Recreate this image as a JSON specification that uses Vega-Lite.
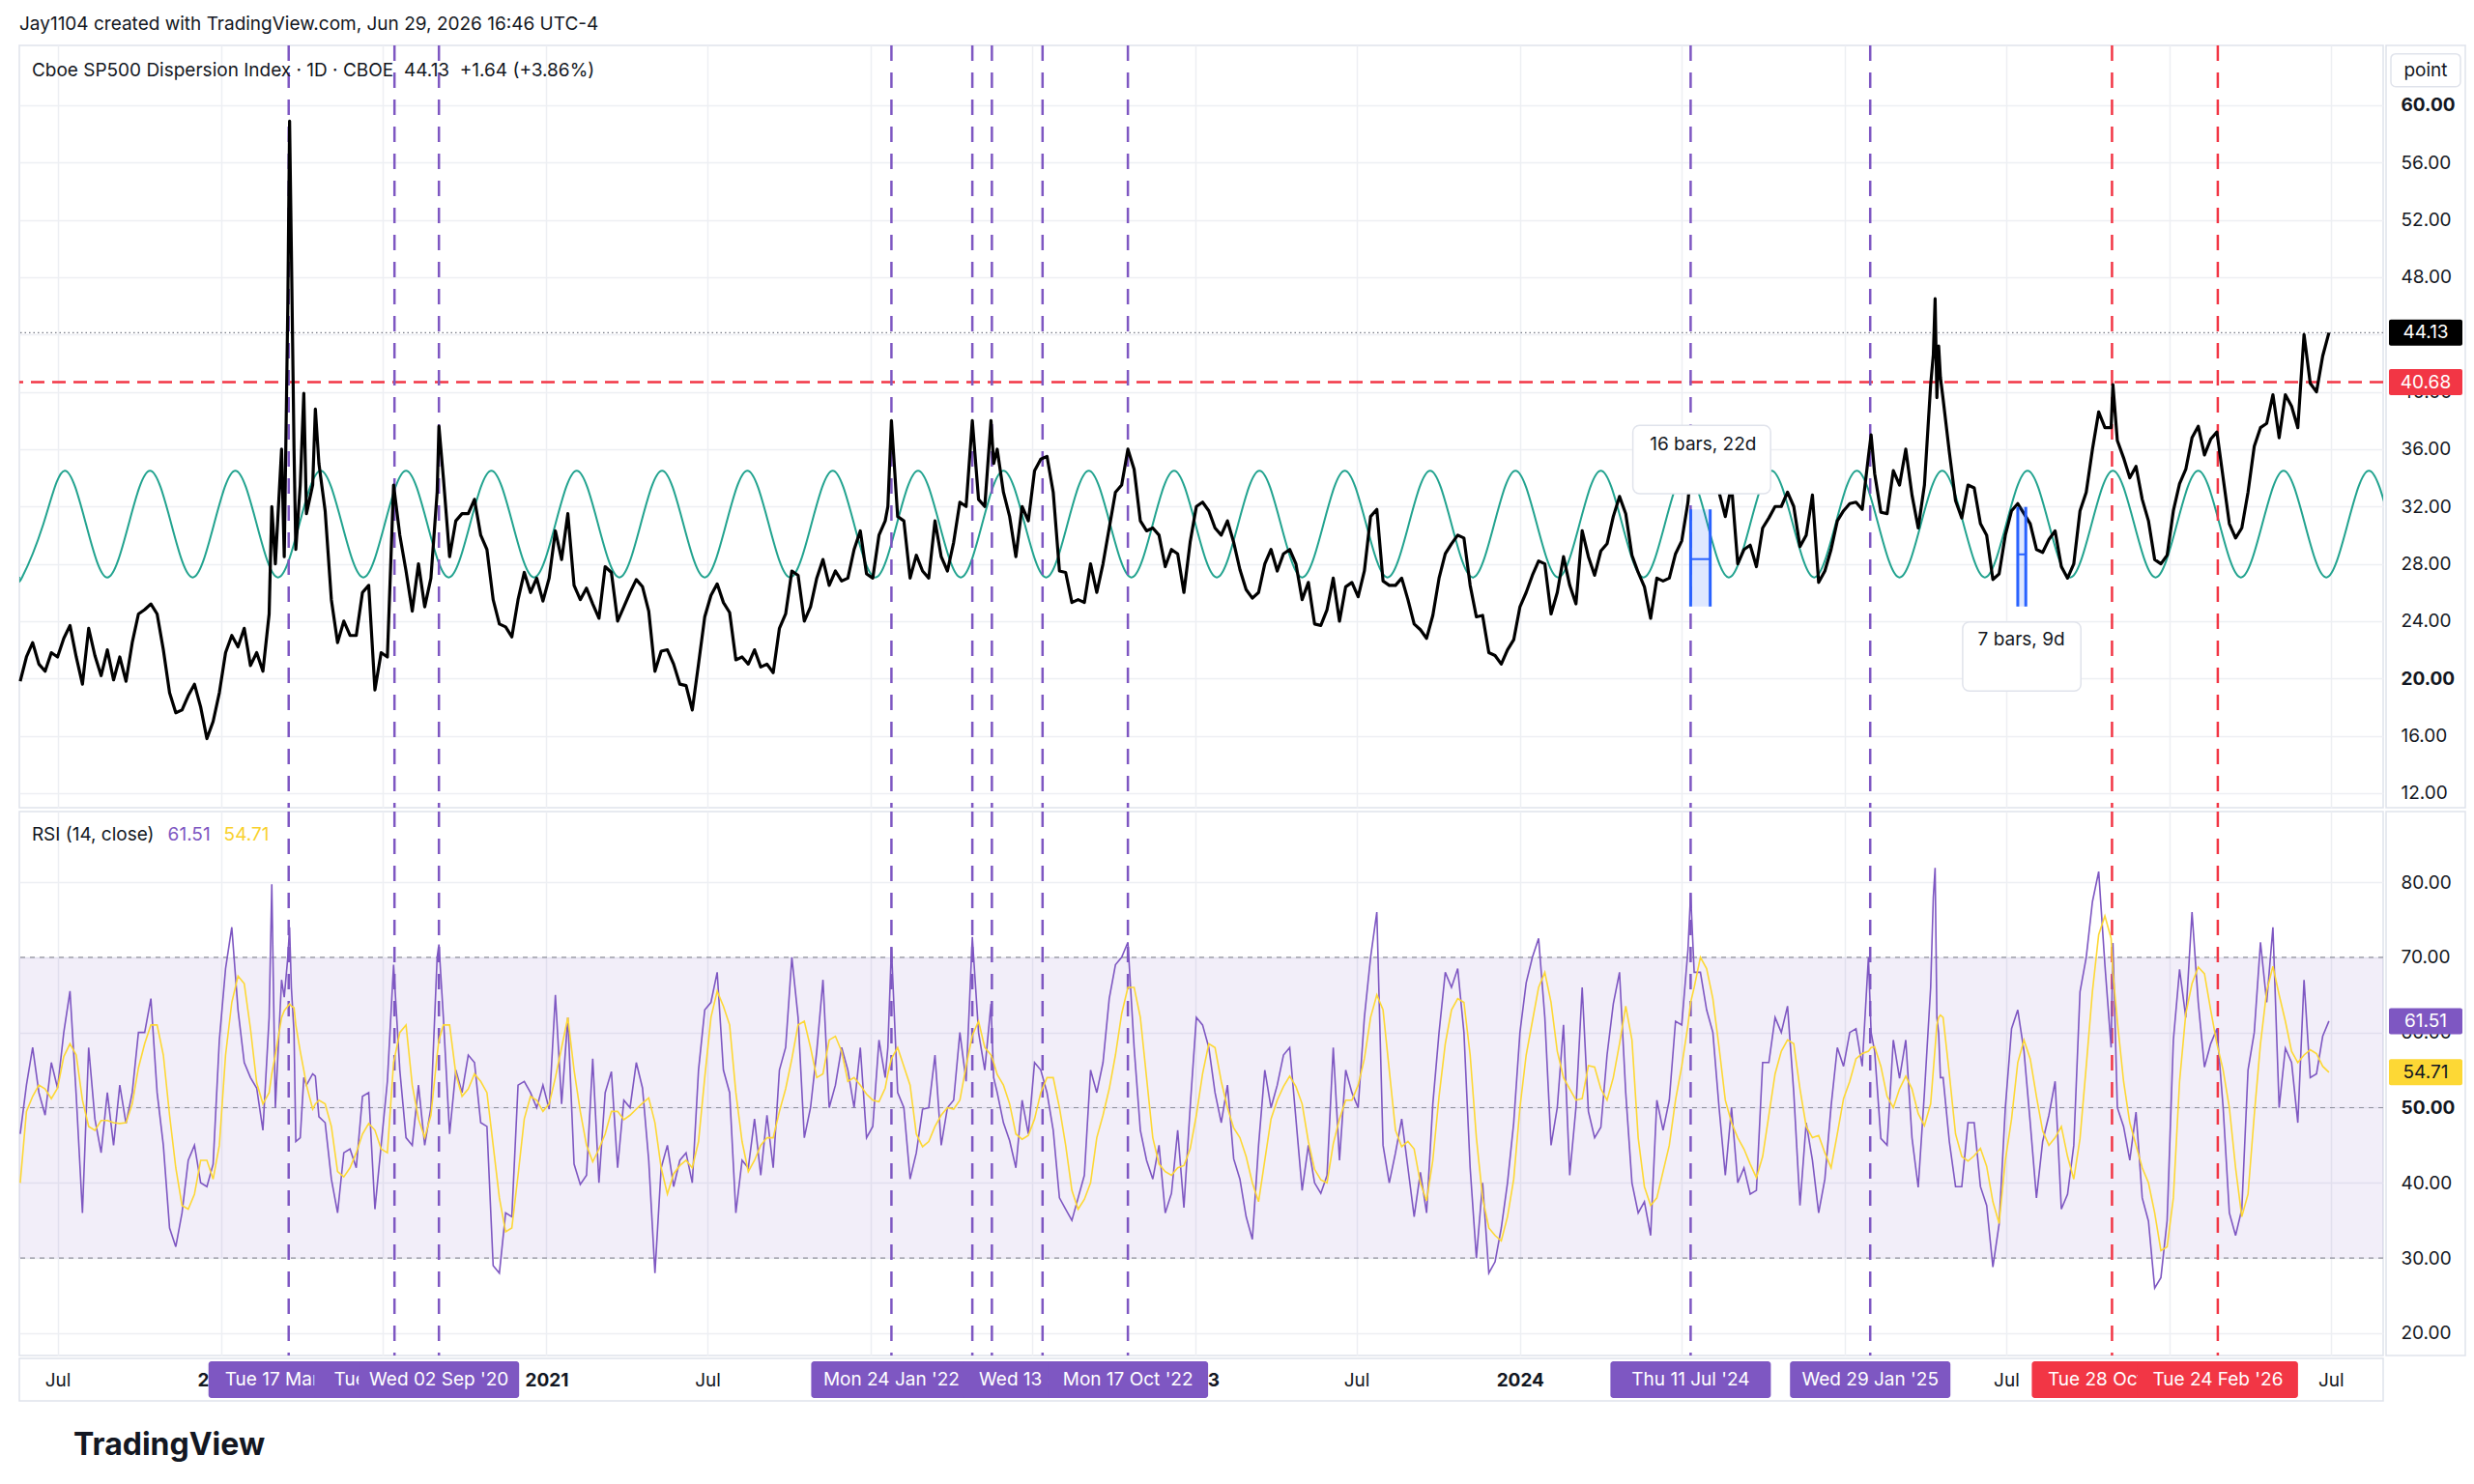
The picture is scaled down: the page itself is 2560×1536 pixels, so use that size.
{
  "$schema": "https://vega.github.io/schema/vega-lite/v6.json",
  "background": "white",
  "padding": {"left": 16, "top": 16, "right": 16, "bottom": 8},
  "spacing": 0,
  "config": {
    "font": "Inter",
    "view": {"stroke": "#E0E3EB", "strokeWidth": 1.5},
    "axis": {"labelFont": "Inter", "labelColor": "#131722", "labelFontSize": 19, "minExtent": 0, "gridColor": "#EDEFF3", "gridWidth": 1.5},
    "concat": {"spacing": 0},
    "text": {"font": "Inter"}
  },
  "title": {"text": "TradingView", "orient": "bottom", "anchor": "start", "frame": "group", "fontSize": 32, "fontWeight": "bold", "color": "#131722", "offset": 30, "dx": 56},
  "datasets": {
    "dspx": [
      {"d":"2019-05-20","p":19.8,"r":46.5,"m":40.0},{"d":"2019-05-27","p":21.5,"r":53.0,"m":49.5},{"d":"2019-06-03","p":22.5,"r":58.0,"m":51.5},{"d":"2019-06-10","p":21.0,"r":52.0,"m":53.0},{"d":"2019-06-17","p":20.5,"r":49.0,"m":52.5},{"d":"2019-06-24","p":21.8,"r":56.0,"m":51.2},
      {"d":"2019-07-01","p":21.5,"r":52.6,"m":52.6},{"d":"2019-07-08","p":22.8,"r":60.0,"m":56.8},{"d":"2019-07-15","p":23.7,"r":65.5,"m":58.5},{"d":"2019-07-22","p":21.5,"r":51.6,"m":57.0},{"d":"2019-07-29","p":19.6,"r":36.0,"m":51.0},
      {"d":"2019-08-05","p":23.5,"r":58.0,"m":47.5},{"d":"2019-08-12","p":21.6,"r":48.5,"m":47.0},{"d":"2019-08-19","p":20.2,"r":44.0,"m":48.3},{"d":"2019-08-26","p":22.0,"r":52.0,"m":48.3},
      {"d":"2019-09-02","p":19.9,"r":45.0,"m":48.0},{"d":"2019-09-09","p":21.5,"r":53.0,"m":47.9},{"d":"2019-09-16","p":19.8,"r":47.9,"m":48.0},{"d":"2019-09-23","p":22.5,"r":52.0,"m":50.5},{"d":"2019-09-30","p":24.5,"r":60.0,"m":55.3},
      {"d":"2019-10-07","p":24.8,"r":60.0,"m":58.5},{"d":"2019-10-14","p":25.2,"r":64.5,"m":61.0},{"d":"2019-10-21","p":24.5,"r":52.0,"m":61.0},{"d":"2019-10-28","p":22.0,"r":45.0,"m":57.0},
      {"d":"2019-11-04","p":19.0,"r":34.0,"m":49.0},{"d":"2019-11-11","p":17.6,"r":31.5,"m":42.0},{"d":"2019-11-18","p":17.8,"r":36.0,"m":37.0},{"d":"2019-11-25","p":18.8,"r":43.0,"m":36.5},
      {"d":"2019-12-02","p":19.6,"r":45.0,"m":38.5},{"d":"2019-12-09","p":18.0,"r":40.0,"m":43.0},{"d":"2019-12-16","p":15.8,"r":39.5,"m":43.0},{"d":"2019-12-23","p":17.0,"r":42.5,"m":40.5},{"d":"2019-12-30","p":19.0,"r":59.0,"m":45.0},
      {"d":"2020-01-06","p":21.8,"r":68.5,"m":57.0},{"d":"2020-01-13","p":23.0,"r":74.0,"m":64.0},{"d":"2020-01-20","p":22.2,"r":63.0,"m":67.5},{"d":"2020-01-27","p":23.5,"r":56.0,"m":66.5},
      {"d":"2020-02-03","p":20.9,"r":54.0,"m":60.5},{"d":"2020-02-10","p":21.8,"r":52.6,"m":53.3},{"d":"2020-02-17","p":20.5,"r":47.0,"m":50.5},{"d":"2020-02-24","p":24.5,"r":62.0,"m":52.0},{"d":"2020-02-27","p":32.0,"r":79.7,"m":54.5},
      {"d":"2020-03-02","p":28.0,"r":50.0,"m":57.0},{"d":"2020-03-09","p":36.0,"r":67.0,"m":62.0},{"d":"2020-03-12","p":28.5,"r":64.7,"m":62.9},{"d":"2020-03-16","p":46.0,"r":70.0,"m":63.5},{"d":"2020-03-18","p":58.9,"r":74.0,"m":63.8},{"d":"2020-03-20","p":50.0,"r":66.0,"m":63.5},{"d":"2020-03-23","p":36.0,"r":60.0,"m":63.3},{"d":"2020-03-25","p":29.0,"r":45.5,"m":61.0},{"d":"2020-03-30","p":33.5,"r":46.0,"m":57.5},
      {"d":"2020-04-03","p":39.9,"r":54.0,"m":55.0},{"d":"2020-04-06","p":31.5,"r":53.0,"m":53.0},{"d":"2020-04-13","p":33.5,"r":54.5,"m":49.8},{"d":"2020-04-16","p":38.8,"r":54.2,"m":50.5},{"d":"2020-04-20","p":35.0,"r":48.8,"m":51.0},{"d":"2020-04-27","p":31.7,"r":48.0,"m":50.5},
      {"d":"2020-05-04","p":25.5,"r":40.5,"m":47.5},{"d":"2020-05-11","p":22.5,"r":36.0,"m":41.5},{"d":"2020-05-18","p":24.0,"r":44.0,"m":40.8},{"d":"2020-05-25","p":23.0,"r":44.5,"m":42.0},
      {"d":"2020-06-01","p":23.0,"r":42.0,"m":44.0},{"d":"2020-06-08","p":26.0,"r":51.5,"m":46.5},{"d":"2020-06-15","p":26.5,"r":52.0,"m":47.9},{"d":"2020-06-22","p":19.2,"r":36.5,"m":47.0},{"d":"2020-06-29","p":21.8,"r":45.0,"m":44.5},
      {"d":"2020-07-06","p":21.5,"r":53.5,"m":44.0},{"d":"2020-07-13","p":33.5,"r":69.0,"m":56.0},{"d":"2020-07-20","p":30.0,"r":55.0,"m":60.0},{"d":"2020-07-27","p":27.5,"r":46.0,"m":61.0},
      {"d":"2020-08-03","p":24.7,"r":45.0,"m":53.0},{"d":"2020-08-10","p":28.0,"r":53.0,"m":48.5},{"d":"2020-08-17","p":25.0,"r":45.0,"m":46.0},{"d":"2020-08-24","p":27.0,"r":50.0,"m":49.0},{"d":"2020-08-31","p":33.0,"r":70.0,"m":57.0},
      {"d":"2020-09-02","p":37.6,"r":71.7,"m":59.0},{"d":"2020-09-07","p":34.0,"r":62.0,"m":61.0},{"d":"2020-09-14","p":28.5,"r":46.5,"m":61.0},{"d":"2020-09-21","p":31.0,"r":55.0,"m":54.5},{"d":"2020-09-28","p":31.5,"r":52.0,"m":51.5},
      {"d":"2020-10-05","p":31.5,"r":57.0,"m":52.5},{"d":"2020-10-12","p":32.5,"r":56.0,"m":54.5},{"d":"2020-10-19","p":30.0,"r":48.0,"m":53.5},{"d":"2020-10-26","p":29.0,"r":47.5,"m":52.0},
      {"d":"2020-11-02","p":25.5,"r":29.0,"m":45.0},{"d":"2020-11-09","p":23.8,"r":28.0,"m":38.0},{"d":"2020-11-16","p":23.6,"r":36.0,"m":33.5},{"d":"2020-11-23","p":22.9,"r":35.5,"m":34.0},{"d":"2020-11-30","p":25.5,"r":53.0,"m":41.0},
      {"d":"2020-12-07","p":27.4,"r":53.5,"m":48.5},{"d":"2020-12-14","p":26.0,"r":52.0,"m":51.5},{"d":"2020-12-21","p":27.0,"r":50.0,"m":51.0},{"d":"2020-12-28","p":25.4,"r":53.0,"m":49.5},
      {"d":"2021-01-04","p":27.0,"r":49.8,"m":50.5},{"d":"2021-01-11","p":30.3,"r":65.0,"m":54.0},{"d":"2021-01-18","p":28.3,"r":50.5,"m":58.0},{"d":"2021-01-25","p":31.5,"r":62.0,"m":62.0},
      {"d":"2021-02-01","p":26.5,"r":42.5,"m":55.0},{"d":"2021-02-08","p":25.5,"r":39.8,"m":49.5},{"d":"2021-02-15","p":26.3,"r":41.0,"m":45.0},{"d":"2021-02-22","p":25.2,"r":56.5,"m":42.8},
      {"d":"2021-03-01","p":24.2,"r":40.0,"m":44.5},{"d":"2021-03-08","p":27.8,"r":52.0,"m":46.5},{"d":"2021-03-15","p":27.4,"r":54.8,"m":49.5},{"d":"2021-03-22","p":24.0,"r":42.0,"m":49.5},{"d":"2021-03-29","p":25.0,"r":51.0,"m":48.4},
      {"d":"2021-04-05","p":26.0,"r":50.0,"m":49.0},{"d":"2021-04-12","p":26.9,"r":56.0,"m":49.8},{"d":"2021-04-19","p":26.4,"r":52.6,"m":50.6},{"d":"2021-04-26","p":24.7,"r":43.0,"m":51.3},
      {"d":"2021-05-03","p":20.5,"r":28.0,"m":48.0},{"d":"2021-05-10","p":21.9,"r":42.0,"m":42.0},{"d":"2021-05-17","p":22.0,"r":45.0,"m":38.5},{"d":"2021-05-24","p":21.0,"r":39.5,"m":41.2},{"d":"2021-05-31","p":19.6,"r":43.0,"m":42.3},
      {"d":"2021-06-07","p":19.5,"r":44.0,"m":43.0},{"d":"2021-06-14","p":17.8,"r":40.0,"m":42.0},{"d":"2021-06-21","p":21.0,"r":55.0,"m":45.5},{"d":"2021-06-28","p":24.3,"r":63.0,"m":54.0},
      {"d":"2021-07-05","p":25.8,"r":64.0,"m":62.0},{"d":"2021-07-12","p":26.6,"r":68.0,"m":65.5},{"d":"2021-07-19","p":25.3,"r":55.0,"m":63.5},{"d":"2021-07-26","p":24.6,"r":52.0,"m":61.0},
      {"d":"2021-08-02","p":21.3,"r":36.0,"m":52.0},{"d":"2021-08-09","p":21.5,"r":43.0,"m":45.5},{"d":"2021-08-16","p":21.0,"r":42.0,"m":41.5},{"d":"2021-08-23","p":22.0,"r":48.5,"m":43.0},{"d":"2021-08-30","p":20.8,"r":41.0,"m":45.0},
      {"d":"2021-09-06","p":21.0,"r":49.0,"m":46.0},{"d":"2021-09-13","p":20.4,"r":42.0,"m":46.0},{"d":"2021-09-20","p":23.5,"r":55.0,"m":49.5},{"d":"2021-09-27","p":24.5,"r":58.0,"m":52.5},
      {"d":"2021-10-04","p":27.5,"r":70.0,"m":56.5},{"d":"2021-10-11","p":27.2,"r":62.0,"m":61.0},{"d":"2021-10-18","p":24.0,"r":46.0,"m":61.5},{"d":"2021-10-25","p":25.0,"r":50.0,"m":58.0},
      {"d":"2021-11-01","p":27.0,"r":57.5,"m":54.0},{"d":"2021-11-08","p":28.3,"r":67.0,"m":54.5},{"d":"2021-11-15","p":26.5,"r":50.0,"m":59.0},{"d":"2021-11-22","p":27.5,"r":53.0,"m":59.5},{"d":"2021-11-29","p":26.8,"r":58.0,"m":57.5},
      {"d":"2021-12-06","p":27.0,"r":55.0,"m":53.5},{"d":"2021-12-13","p":29.0,"r":50.0,"m":54.0},{"d":"2021-12-20","p":30.3,"r":58.0,"m":53.0},{"d":"2021-12-27","p":27.3,"r":46.0,"m":51.8},
      {"d":"2022-01-03","p":27.0,"r":47.5,"m":51.0},{"d":"2022-01-10","p":30.0,"r":59.0,"m":50.8},{"d":"2022-01-17","p":31.0,"r":54.0,"m":52.6},{"d":"2022-01-20","p":32.0,"r":58.0,"m":54.5},{"d":"2022-01-24","p":38.0,"r":71.3,"m":56.5},{"d":"2022-01-31","p":31.3,"r":52.0,"m":58.0},
      {"d":"2022-02-07","p":31.0,"r":50.0,"m":55.5},{"d":"2022-02-14","p":27.0,"r":40.5,"m":53.0},{"d":"2022-02-21","p":28.6,"r":44.0,"m":46.5},{"d":"2022-02-28","p":27.5,"r":49.8,"m":44.8},
      {"d":"2022-03-07","p":27.0,"r":50.0,"m":45.5},{"d":"2022-03-14","p":31.0,"r":57.0,"m":47.5},{"d":"2022-03-21","p":28.5,"r":45.0,"m":49.0},{"d":"2022-03-28","p":27.5,"r":50.0,"m":50.0},
      {"d":"2022-04-04","p":29.5,"r":51.0,"m":49.8},{"d":"2022-04-11","p":32.3,"r":60.0,"m":51.0},{"d":"2022-04-18","p":32.0,"r":53.5,"m":55.5},{"d":"2022-04-25","p":38.0,"r":72.7,"m":59.6},
      {"d":"2022-05-02","p":32.5,"r":60.0,"m":61.5},{"d":"2022-05-09","p":32.0,"r":55.0,"m":58.0},{"d":"2022-05-16","p":38.0,"r":63.8,"m":57.0},{"d":"2022-05-19","p":35.0,"r":54.0,"m":56.0},{"d":"2022-05-23","p":36.0,"r":52.0,"m":54.4},{"d":"2022-05-30","p":33.0,"r":48.0,"m":53.0},
      {"d":"2022-06-06","p":31.3,"r":45.6,"m":50.5},{"d":"2022-06-13","p":28.5,"r":42.0,"m":46.5},{"d":"2022-06-20","p":32.0,"r":51.0,"m":45.8},{"d":"2022-06-27","p":31.0,"r":46.5,"m":46.3},
      {"d":"2022-07-04","p":34.5,"r":56.0,"m":48.5},{"d":"2022-07-11","p":35.3,"r":55.0,"m":52.0},{"d":"2022-07-18","p":35.5,"r":52.0,"m":54.0},{"d":"2022-07-25","p":33.0,"r":47.0,"m":54.0},
      {"d":"2022-08-01","p":27.5,"r":38.0,"m":50.0},{"d":"2022-08-08","p":27.4,"r":36.5,"m":45.0},{"d":"2022-08-15","p":25.3,"r":35.0,"m":39.0},{"d":"2022-08-22","p":25.5,"r":38.0,"m":36.5},{"d":"2022-08-29","p":25.3,"r":41.0,"m":37.8},
      {"d":"2022-09-05","p":28.0,"r":55.0,"m":40.0},{"d":"2022-09-12","p":26.0,"r":52.0,"m":46.0},{"d":"2022-09-19","p":28.0,"r":56.0,"m":49.0},{"d":"2022-09-26","p":30.5,"r":64.5,"m":52.5},
      {"d":"2022-10-03","p":33.0,"r":69.0,"m":57.0},{"d":"2022-10-10","p":33.5,"r":70.0,"m":62.5},{"d":"2022-10-17","p":36.0,"r":72.0,"m":66.0},{"d":"2022-10-24","p":34.6,"r":58.0,"m":66.0},{"d":"2022-10-31","p":31.0,"r":47.0,"m":62.0},
      {"d":"2022-11-07","p":30.3,"r":43.0,"m":54.0},{"d":"2022-11-14","p":30.5,"r":40.5,"m":46.0},{"d":"2022-11-21","p":30.0,"r":45.0,"m":42.5},{"d":"2022-11-28","p":27.8,"r":36.0,"m":41.5},
      {"d":"2022-12-05","p":29.0,"r":38.6,"m":41.0},{"d":"2022-12-12","p":28.7,"r":47.0,"m":42.0},{"d":"2022-12-19","p":26.0,"r":36.7,"m":42.3},{"d":"2022-12-26","p":29.5,"r":50.0,"m":44.5},
      {"d":"2023-01-02","p":32.0,"r":62.0,"m":49.0},{"d":"2023-01-09","p":32.3,"r":61.0,"m":54.5},{"d":"2023-01-16","p":31.7,"r":58.0,"m":58.5},{"d":"2023-01-23","p":30.5,"r":52.0,"m":58.0},{"d":"2023-01-30","p":30.0,"r":48.0,"m":53.5},
      {"d":"2023-02-06","p":31.0,"r":53.0,"m":50.0},{"d":"2023-02-13","p":29.5,"r":43.2,"m":47.3},{"d":"2023-02-20","p":27.6,"r":40.5,"m":46.0},{"d":"2023-02-27","p":26.2,"r":35.5,"m":43.5},
      {"d":"2023-03-06","p":25.6,"r":32.5,"m":40.0},{"d":"2023-03-13","p":26.0,"r":45.0,"m":37.5},{"d":"2023-03-20","p":28.0,"r":55.0,"m":43.0},{"d":"2023-03-27","p":29.0,"r":50.0,"m":48.5},
      {"d":"2023-04-03","p":27.5,"r":53.0,"m":51.0},{"d":"2023-04-10","p":28.7,"r":57.0,"m":52.8},{"d":"2023-04-17","p":29.0,"r":58.0,"m":54.2},{"d":"2023-04-24","p":28.0,"r":48.5,"m":52.8},
      {"d":"2023-05-01","p":25.5,"r":39.0,"m":50.5},{"d":"2023-05-08","p":26.7,"r":45.0,"m":45.5},{"d":"2023-05-15","p":23.8,"r":40.0,"m":41.8},{"d":"2023-05-22","p":23.7,"r":38.6,"m":40.4},{"d":"2023-05-29","p":24.8,"r":41.0,"m":40.0},
      {"d":"2023-06-05","p":27.0,"r":58.0,"m":45.2},{"d":"2023-06-12","p":24.0,"r":43.0,"m":48.5},{"d":"2023-06-19","p":26.4,"r":55.0,"m":51.0},{"d":"2023-06-26","p":26.7,"r":52.0,"m":51.0},
      {"d":"2023-07-03","p":25.7,"r":50.0,"m":53.0},{"d":"2023-07-10","p":27.5,"r":62.0,"m":56.5},{"d":"2023-07-17","p":31.3,"r":70.0,"m":62.0},{"d":"2023-07-24","p":31.8,"r":76.0,"m":65.0},{"d":"2023-07-31","p":26.8,"r":45.0,"m":63.0},
      {"d":"2023-08-07","p":26.5,"r":40.0,"m":55.0},{"d":"2023-08-14","p":26.5,"r":44.0,"m":47.0},{"d":"2023-08-21","p":27.0,"r":48.5,"m":44.8},{"d":"2023-08-28","p":25.5,"r":42.0,"m":45.5},
      {"d":"2023-09-04","p":23.8,"r":35.5,"m":44.5},{"d":"2023-09-11","p":23.4,"r":41.4,"m":40.0},{"d":"2023-09-18","p":22.8,"r":36.0,"m":37.6},{"d":"2023-09-25","p":24.4,"r":50.5,"m":43.0},
      {"d":"2023-10-02","p":27.0,"r":60.0,"m":51.5},{"d":"2023-10-09","p":28.7,"r":68.0,"m":58.5},{"d":"2023-10-16","p":29.4,"r":66.0,"m":63.0},{"d":"2023-10-23","p":30.0,"r":68.5,"m":64.5},{"d":"2023-10-30","p":29.8,"r":60.0,"m":64.0},
      {"d":"2023-11-06","p":26.5,"r":42.0,"m":57.0},{"d":"2023-11-13","p":24.3,"r":30.0,"m":46.0},{"d":"2023-11-20","p":24.4,"r":40.0,"m":38.0},{"d":"2023-11-27","p":21.8,"r":28.0,"m":34.0},
      {"d":"2023-12-04","p":21.6,"r":29.5,"m":33.0},{"d":"2023-12-11","p":21.0,"r":34.0,"m":32.3},{"d":"2023-12-18","p":22.0,"r":40.0,"m":35.5},{"d":"2023-12-25","p":22.7,"r":48.0,"m":40.5},
      {"d":"2024-01-01","p":25.0,"r":60.0,"m":50.0},{"d":"2024-01-08","p":26.0,"r":66.6,"m":57.0},{"d":"2024-01-15","p":27.2,"r":70.0,"m":61.5},{"d":"2024-01-22","p":28.2,"r":72.5,"m":66.0},{"d":"2024-01-29","p":28.0,"r":62.0,"m":68.0},
      {"d":"2024-02-05","p":24.5,"r":45.0,"m":64.0},{"d":"2024-02-12","p":26.0,"r":50.0,"m":57.5},{"d":"2024-02-19","p":28.5,"r":61.0,"m":54.0},{"d":"2024-02-26","p":26.5,"r":41.0,"m":52.5},
      {"d":"2024-03-04","p":25.2,"r":50.0,"m":51.0},{"d":"2024-03-11","p":30.3,"r":66.0,"m":51.2},{"d":"2024-03-18","p":28.5,"r":49.5,"m":55.6},{"d":"2024-03-25","p":27.2,"r":46.0,"m":55.4},
      {"d":"2024-04-01","p":28.9,"r":47.4,"m":52.5},{"d":"2024-04-08","p":29.4,"r":57.0,"m":51.0},{"d":"2024-04-15","p":31.3,"r":63.8,"m":54.0},{"d":"2024-04-22","p":32.7,"r":68.0,"m":58.5},{"d":"2024-04-29","p":31.5,"r":52.0,"m":63.5},
      {"d":"2024-05-06","p":28.6,"r":40.0,"m":59.0},{"d":"2024-05-13","p":27.4,"r":36.0,"m":46.0},{"d":"2024-05-20","p":26.4,"r":37.5,"m":39.5},{"d":"2024-05-27","p":24.2,"r":33.0,"m":37.0},
      {"d":"2024-06-03","p":27.0,"r":51.0,"m":38.0},{"d":"2024-06-10","p":26.8,"r":47.0,"m":41.5},{"d":"2024-06-17","p":27.0,"r":51.0,"m":45.0},{"d":"2024-06-24","p":28.7,"r":61.5,"m":51.0},
      {"d":"2024-07-01","p":29.6,"r":61.0,"m":55.5},{"d":"2024-07-08","p":32.3,"r":71.0,"m":61.0},{"d":"2024-07-11","p":34.5,"r":78.5,"m":64.0},{"d":"2024-07-15","p":34.4,"r":68.0,"m":66.0},{"d":"2024-07-22","p":34.4,"r":68.0,"m":70.0},{"d":"2024-07-29","p":34.5,"r":63.0,"m":68.5},
      {"d":"2024-08-05","p":35.0,"r":60.0,"m":64.5},{"d":"2024-08-12","p":33.0,"r":50.0,"m":58.0},{"d":"2024-08-19","p":31.3,"r":41.0,"m":51.0},{"d":"2024-08-26","p":33.5,"r":50.0,"m":48.0},
      {"d":"2024-09-02","p":28.0,"r":40.0,"m":46.0},{"d":"2024-09-09","p":29.0,"r":42.0,"m":44.5},{"d":"2024-09-16","p":29.3,"r":38.5,"m":42.5},{"d":"2024-09-23","p":27.8,"r":39.0,"m":40.7},{"d":"2024-09-30","p":30.5,"r":56.0,"m":43.5},
      {"d":"2024-10-07","p":31.2,"r":56.0,"m":49.0},{"d":"2024-10-14","p":32.0,"r":62.0,"m":54.5},{"d":"2024-10-21","p":32.0,"r":60.0,"m":57.5},{"d":"2024-10-28","p":33.0,"r":63.5,"m":59.0},
      {"d":"2024-11-04","p":32.0,"r":52.0,"m":58.5},{"d":"2024-11-11","p":29.2,"r":37.0,"m":52.5},{"d":"2024-11-18","p":30.0,"r":48.0,"m":47.5},{"d":"2024-11-25","p":32.8,"r":43.0,"m":46.0},
      {"d":"2024-12-02","p":26.7,"r":36.0,"m":46.3},{"d":"2024-12-09","p":27.5,"r":40.5,"m":44.0},{"d":"2024-12-16","p":29.0,"r":50.2,"m":42.0},{"d":"2024-12-23","p":31.0,"r":58.0,"m":46.5},{"d":"2024-12-30","p":31.7,"r":55.5,"m":51.2},
      {"d":"2025-01-06","p":32.2,"r":60.0,"m":53.5},{"d":"2025-01-13","p":32.3,"r":60.5,"m":56.5},{"d":"2025-01-20","p":31.8,"r":55.5,"m":57.2},{"d":"2025-01-27","p":35.5,"r":70.0,"m":57.5},{"d":"2025-01-30","p":37.0,"r":60.0,"m":58.0},
      {"d":"2025-02-03","p":34.3,"r":57.5,"m":58.1},{"d":"2025-02-10","p":31.6,"r":45.9,"m":55.5},{"d":"2025-02-17","p":31.5,"r":45.0,"m":51.5},{"d":"2025-02-24","p":34.5,"r":59.0,"m":50.0},
      {"d":"2025-03-03","p":33.5,"r":53.9,"m":52.5},{"d":"2025-03-10","p":36.0,"r":59.0,"m":54.2},{"d":"2025-03-17","p":32.8,"r":46.0,"m":52.5},{"d":"2025-03-24","p":30.5,"r":39.4,"m":49.2},{"d":"2025-03-31","p":33.5,"r":52.0,"m":47.6},
      {"d":"2025-04-07","p":40.5,"r":66.0,"m":50.5},{"d":"2025-04-10","p":42.6,"r":78.0,"m":55.0},{"d":"2025-04-12","p":46.5,"r":81.9,"m":58.0},{"d":"2025-04-14","p":39.6,"r":62.0,"m":61.0},{"d":"2025-04-16","p":43.2,"r":59.9,"m":62.0},{"d":"2025-04-18","p":41.0,"r":54.0,"m":62.3},{"d":"2025-04-21","p":39.5,"r":54.0,"m":62.0},{"d":"2025-04-28","p":35.8,"r":45.5,"m":54.5},
      {"d":"2025-05-05","p":32.4,"r":39.5,"m":46.5},{"d":"2025-05-12","p":31.2,"r":39.5,"m":43.5},{"d":"2025-05-19","p":33.5,"r":48.0,"m":42.9},{"d":"2025-05-26","p":33.3,"r":48.0,"m":43.6},
      {"d":"2025-06-02","p":30.8,"r":39.5,"m":44.6},{"d":"2025-06-09","p":30.0,"r":37.0,"m":42.2},{"d":"2025-06-16","p":26.9,"r":28.8,"m":37.5},{"d":"2025-06-23","p":27.3,"r":34.5,"m":34.6},{"d":"2025-06-30","p":30.0,"r":50.0,"m":43.0},
      {"d":"2025-07-07","p":31.7,"r":60.5,"m":48.5},{"d":"2025-07-14","p":32.2,"r":63.0,"m":56.0},{"d":"2025-07-21","p":31.5,"r":57.5,"m":59.0},{"d":"2025-07-28","p":30.8,"r":48.0,"m":56.5},
      {"d":"2025-08-04","p":29.0,"r":38.0,"m":51.5},{"d":"2025-08-11","p":28.8,"r":45.5,"m":46.9},{"d":"2025-08-18","p":29.7,"r":49.0,"m":45.0},{"d":"2025-08-25","p":30.3,"r":53.5,"m":46.0},
      {"d":"2025-09-01","p":27.8,"r":36.5,"m":47.5},{"d":"2025-09-08","p":27.0,"r":38.5,"m":43.5},{"d":"2025-09-15","p":28.0,"r":45.0,"m":40.5},{"d":"2025-09-22","p":31.7,"r":65.4,"m":45.9},{"d":"2025-09-29","p":33.0,"r":70.0,"m":55.5},
      {"d":"2025-10-06","p":36.0,"r":77.4,"m":65.5},{"d":"2025-10-13","p":38.6,"r":81.4,"m":73.0},{"d":"2025-10-20","p":37.5,"r":69.0,"m":75.5},{"d":"2025-10-27","p":37.5,"r":58.0,"m":72.5},{"d":"2025-10-29","p":40.5,"r":71.9,"m":68.0},
      {"d":"2025-11-03","p":36.6,"r":50.0,"m":61.5},{"d":"2025-11-10","p":35.4,"r":47.5,"m":53.5},{"d":"2025-11-17","p":34.0,"r":43.0,"m":48.0},{"d":"2025-11-24","p":34.8,"r":49.4,"m":45.0},
      {"d":"2025-12-01","p":32.5,"r":38.0,"m":42.0},{"d":"2025-12-08","p":31.0,"r":34.9,"m":40.0},{"d":"2025-12-15","p":28.3,"r":26.0,"m":36.0},{"d":"2025-12-22","p":28.0,"r":27.4,"m":31.0},{"d":"2025-12-29","p":28.6,"r":35.0,"m":31.5},
      {"d":"2026-01-05","p":31.7,"r":59.0,"m":38.0},{"d":"2026-01-12","p":33.6,"r":68.4,"m":53.5},{"d":"2026-01-19","p":34.6,"r":62.0,"m":62.5},{"d":"2026-01-26","p":36.8,"r":76.0,"m":66.5},
      {"d":"2026-02-02","p":37.6,"r":64.0,"m":68.7},{"d":"2026-02-09","p":35.6,"r":55.4,"m":67.8},{"d":"2026-02-16","p":36.7,"r":58.5,"m":63.0},{"d":"2026-02-23","p":37.2,"r":60.5,"m":58.5},
      {"d":"2026-03-02","p":34.0,"r":50.0,"m":55.0},{"d":"2026-03-09","p":30.8,"r":36.0,"m":50.0},{"d":"2026-03-16","p":29.8,"r":33.0,"m":42.0},{"d":"2026-03-23","p":30.5,"r":36.5,"m":35.5},{"d":"2026-03-30","p":33.0,"r":55.0,"m":38.5},
      {"d":"2026-04-06","p":36.2,"r":60.0,"m":49.0},{"d":"2026-04-13","p":37.5,"r":72.0,"m":58.5},{"d":"2026-04-20","p":37.8,"r":64.0,"m":65.5},{"d":"2026-04-27","p":39.8,"r":74.0,"m":68.8},
      {"d":"2026-05-04","p":36.8,"r":50.0,"m":65.0},{"d":"2026-05-11","p":39.8,"r":57.9,"m":61.5},{"d":"2026-05-18","p":39.0,"r":56.0,"m":57.5},{"d":"2026-05-25","p":37.5,"r":48.0,"m":56.0},
      {"d":"2026-06-01","p":44.0,"r":67.0,"m":57.0},{"d":"2026-06-08","p":40.6,"r":54.0,"m":57.7},{"d":"2026-06-15","p":40.0,"r":54.5,"m":57.2},{"d":"2026-06-22","p":42.5,"r":59.5,"m":55.5},{"d":"2026-06-29","p":44.13,"r":61.51,"m":54.71}
    ],
    "sine": [
      {"d":"2019-05-19","v":27.1},{"d":"2019-05-22","v":27.05},{"d":"2019-06-15","v":30.77},{"d":"2019-07-09","v":34.5},{"d":"2019-08-02","v":30.77},
      {"d":"2019-08-26","v":27.05},{"d":"2019-09-19","v":30.77},{"d":"2019-10-13","v":34.5},{"d":"2019-11-06","v":30.77},
      {"d":"2019-11-30","v":27.05},{"d":"2019-12-24","v":30.77},{"d":"2020-01-17","v":34.5},{"d":"2020-02-10","v":30.77},
      {"d":"2020-03-05","v":27.05},{"d":"2020-03-29","v":30.77},{"d":"2020-04-22","v":34.5},{"d":"2020-05-16","v":30.77},
      {"d":"2020-06-09","v":27.05},{"d":"2020-07-03","v":30.77},{"d":"2020-07-27","v":34.5},{"d":"2020-08-20","v":30.77},
      {"d":"2020-09-13","v":27.05},{"d":"2020-10-07","v":30.77},{"d":"2020-10-31","v":34.5},{"d":"2020-11-24","v":30.77},
      {"d":"2020-12-18","v":27.05},{"d":"2021-01-11","v":30.77},{"d":"2021-02-04","v":34.5},{"d":"2021-02-28","v":30.77},
      {"d":"2021-03-24","v":27.05},{"d":"2021-04-17","v":30.77},{"d":"2021-05-11","v":34.5},{"d":"2021-06-04","v":30.77},
      {"d":"2021-06-28","v":27.05},{"d":"2021-07-22","v":30.77},{"d":"2021-08-15","v":34.5},{"d":"2021-09-08","v":30.77},
      {"d":"2021-10-02","v":27.05},{"d":"2021-10-26","v":30.77},{"d":"2021-11-19","v":34.5},{"d":"2021-12-13","v":30.77},
      {"d":"2022-01-06","v":27.05},{"d":"2022-01-30","v":30.77},{"d":"2022-02-23","v":34.5},{"d":"2022-03-19","v":30.77},
      {"d":"2022-04-12","v":27.05},{"d":"2022-05-06","v":30.77},{"d":"2022-05-30","v":34.5},{"d":"2022-06-23","v":30.77},
      {"d":"2022-07-17","v":27.05},{"d":"2022-08-10","v":30.77},{"d":"2022-09-03","v":34.5},{"d":"2022-09-27","v":30.77},
      {"d":"2022-10-21","v":27.05},{"d":"2022-11-14","v":30.77},{"d":"2022-12-08","v":34.5},{"d":"2023-01-01","v":30.77},
      {"d":"2023-01-25","v":27.05},{"d":"2023-02-18","v":30.77},{"d":"2023-03-14","v":34.5},{"d":"2023-04-07","v":30.77},
      {"d":"2023-05-01","v":27.05},{"d":"2023-05-25","v":30.77},{"d":"2023-06-18","v":34.5},{"d":"2023-07-12","v":30.77},
      {"d":"2023-08-05","v":27.05},{"d":"2023-08-29","v":30.77},{"d":"2023-09-22","v":34.5},{"d":"2023-10-16","v":30.77},
      {"d":"2023-11-09","v":27.05},{"d":"2023-12-03","v":30.77},{"d":"2023-12-27","v":34.5},{"d":"2024-01-20","v":30.77},
      {"d":"2024-02-13","v":27.05},{"d":"2024-03-08","v":30.77},{"d":"2024-04-01","v":34.5},{"d":"2024-04-25","v":30.77},
      {"d":"2024-05-19","v":27.05},{"d":"2024-06-12","v":30.77},{"d":"2024-07-06","v":34.5},{"d":"2024-07-30","v":30.77},
      {"d":"2024-08-23","v":27.05},{"d":"2024-09-16","v":30.77},{"d":"2024-10-10","v":34.5},{"d":"2024-11-03","v":30.77},
      {"d":"2024-11-27","v":27.05},{"d":"2024-12-21","v":30.77},{"d":"2025-01-14","v":34.5},{"d":"2025-02-07","v":30.77},
      {"d":"2025-03-03","v":27.05},{"d":"2025-03-27","v":30.77},{"d":"2025-04-20","v":34.5},{"d":"2025-05-14","v":30.77},
      {"d":"2025-06-07","v":27.05},{"d":"2025-07-01","v":30.77},{"d":"2025-07-25","v":34.5},{"d":"2025-08-18","v":30.77},
      {"d":"2025-09-11","v":27.05},{"d":"2025-10-05","v":30.77},{"d":"2025-10-29","v":34.5},{"d":"2025-11-22","v":30.77},
      {"d":"2025-12-16","v":27.05},{"d":"2026-01-09","v":30.77},{"d":"2026-02-02","v":34.5},{"d":"2026-02-26","v":30.77},
      {"d":"2026-03-22","v":27.05},{"d":"2026-04-15","v":30.77},{"d":"2026-05-09","v":34.5},{"d":"2026-06-02","v":30.77},
      {"d":"2026-06-26","v":27.05},{"d":"2026-07-20","v":30.77},{"d":"2026-08-13","v":34.5},{"d":"2026-09-06","v":30.77}
    ],
    "events": [
      {"d":"2020-03-17","kind":"past","label":"Tue 17 Mar '20"},
      {"d":"2020-07-14","kind":"past","label":"Tue 14 Jul '20"},
      {"d":"2020-09-02","kind":"past","label":"Wed 02 Sep '20"},
      {"d":"2022-01-24","kind":"past","label":"Mon 24 Jan '22"},
      {"d":"2022-04-25","kind":"past","label":"Mon 25 Apr '22"},
      {"d":"2022-05-17","kind":"past","label":"Tue 17 May '22"},
      {"d":"2022-07-13","kind":"past","label":"Wed 13 Jul '22"},
      {"d":"2022-10-17","kind":"past","label":"Mon 17 Oct '22"},
      {"d":"2024-07-11","kind":"past","label":"Thu 11 Jul '24"},
      {"d":"2025-01-29","kind":"past","label":"Wed 29 Jan '25"},
      {"d":"2025-10-28","kind":"recent","label":"Tue 28 Oct '25"},
      {"d":"2026-02-24","kind":"recent","label":"Tue 24 Feb '26"}
    ],
    "measures": [
      {"d0":"2024-07-11","d1":"2024-08-02","lo":25.02,"hi":31.8,"mid":28.33,"b0":"2024-05-07","b1":"2024-10-09","blo":32.89,"bhi":37.67,"tc":"2024-07-25","ty":36.34,"label":"16 bars, 22d"},
      {"d0":"2025-07-14","d1":"2025-07-23","lo":25.02,"hi":31.97,"mid":28.66,"b0":"2025-05-13","b1":"2025-09-23","blo":19.12,"bhi":23.95,"tc":"2025-07-18","ty":22.7,"label":"7 bars, 9d"}
    ]
  },
  "vconcat": [
    {
      "title": {"text": "Jay1104 created with TradingView.com, Jun 29, 2026 16:46 UTC-4", "anchor": "start", "frame": "group", "fontSize": 19, "fontWeight": "normal", "color": "#131722", "offset": 10},
      "spacing": 0,
      "hconcat": [
        {
          "width": 2446,
          "height": 789,
          "resolve": {"axis": {"x": "independent", "y": "independent"}},
          "layer": [
            {
              "data": {"name": "sine"},
              "mark": {"type": "line", "interpolate": "natural", "color": "#22A38F", "strokeWidth": 2, "clip": true},
              "encoding": {
                "x": {"field": "d", "type": "temporal", "scale": {"domain": [{"year": 2019, "month": "may", "date": 19}, {"year": 2026, "month": "aug", "date": 29}], "nice": false},
                  "axis": {"values": [{"year":2019,"month":"jul","date":1},{"year":2020,"month":"jan","date":1},{"year":2020,"month":"jul","date":1},{"year":2021,"month":"jan","date":1},{"year":2021,"month":"jul","date":1},{"year":2022,"month":"jan","date":1},{"year":2022,"month":"jul","date":1},{"year":2023,"month":"jan","date":1},{"year":2023,"month":"jul","date":1},{"year":2024,"month":"jan","date":1},{"year":2024,"month":"jul","date":1},{"year":2025,"month":"jan","date":1},{"year":2025,"month":"jul","date":1},{"year":2026,"month":"jan","date":1},{"year":2026,"month":"jul","date":1}], "grid": true, "labels": false, "ticks": false, "domain": false, "title": null}},
                "y": {"field": "v", "type": "quantitative", "scale": {"domain": [10.98, 64.18], "nice": false, "zero": false},
                  "axis": {"values": [12, 16, 20, 24, 28, 32, 36, 40, 44, 48, 52, 56, 60], "grid": true, "labels": false, "ticks": false, "domain": false, "title": null}}
              }
            },
            {
              "data": {"values": [{"v": 40.68}]},
              "mark": {"type": "rule", "color": "#F23645", "strokeWidth": 2.5, "strokeDash": [14, 8]},
              "encoding": {"y": {"field": "v", "type": "quantitative", "scale": {"domain": [10.98, 64.18], "nice": false, "zero": false}, "axis": null}}
            },
            {
              "data": {"values": [{"v": 44.13}]},
              "mark": {"type": "rule", "color": "#787B86", "strokeWidth": 1.2, "strokeDash": [1.5, 3]},
              "encoding": {"y": {"field": "v", "type": "quantitative", "scale": {"domain": [10.98, 64.18], "nice": false, "zero": false}, "axis": null}}
            },
            {
              "data": {"name": "events"},
              "mark": {"type": "rule", "strokeWidth": 2.5, "strokeDash": [16, 12]},
              "encoding": {
                "x": {"field": "d", "type": "temporal", "scale": {"domain": [{"year": 2019, "month": "may", "date": 19}, {"year": 2026, "month": "aug", "date": 29}], "nice": false}, "axis": null},
                "color": {"condition": {"test": "datum.kind == 'recent'", "value": "#F23645"}, "value": "#7E57C2"}
              }
            },
            {
              "data": {"name": "dspx"},
              "mark": {"type": "line", "color": "#000000", "strokeWidth": 3.2, "strokeJoin": "round", "invalid": "filter"},
              "encoding": {
                "x": {"field": "d", "type": "temporal", "scale": {"domain": [{"year": 2019, "month": "may", "date": 19}, {"year": 2026, "month": "aug", "date": 29}], "nice": false}, "axis": null},
                "y": {"field": "p", "type": "quantitative", "scale": {"domain": [10.98, 64.18], "nice": false, "zero": false}, "axis": null}
              }
            },
            {
              "data": {"name": "measures"},
              "mark": {"type": "rect", "color": "#2962FF", "opacity": 0.15},
              "encoding": {
                "x": {"field": "d0", "type": "temporal", "scale": {"domain": [{"year": 2019, "month": "may", "date": 19}, {"year": 2026, "month": "aug", "date": 29}], "nice": false}, "axis": null},
                "x2": {"field": "d1"},
                "y": {"field": "lo", "type": "quantitative", "scale": {"domain": [10.98, 64.18], "nice": false, "zero": false}, "axis": null},
                "y2": {"field": "hi"}
              }
            },
            {
              "data": {"name": "measures"},
              "mark": {"type": "rule", "color": "#2962FF", "strokeWidth": 3},
              "encoding": {
                "x": {"field": "d0", "type": "temporal", "scale": {"domain": [{"year": 2019, "month": "may", "date": 19}, {"year": 2026, "month": "aug", "date": 29}], "nice": false}, "axis": null},
                "y": {"field": "lo", "type": "quantitative", "scale": {"domain": [10.98, 64.18], "nice": false, "zero": false}, "axis": null},
                "y2": {"field": "hi"}
              }
            },
            {
              "data": {"name": "measures"},
              "mark": {"type": "rule", "color": "#2962FF", "strokeWidth": 3},
              "encoding": {
                "x": {"field": "d1", "type": "temporal", "scale": {"domain": [{"year": 2019, "month": "may", "date": 19}, {"year": 2026, "month": "aug", "date": 29}], "nice": false}, "axis": null},
                "y": {"field": "lo", "type": "quantitative", "scale": {"domain": [10.98, 64.18], "nice": false, "zero": false}, "axis": null},
                "y2": {"field": "hi"}
              }
            },
            {
              "data": {"name": "measures"},
              "mark": {"type": "rule", "color": "#2962FF", "strokeWidth": 2},
              "encoding": {
                "x": {"field": "d0", "type": "temporal", "scale": {"domain": [{"year": 2019, "month": "may", "date": 19}, {"year": 2026, "month": "aug", "date": 29}], "nice": false}, "axis": null},
                "x2": {"field": "d1"},
                "y": {"field": "mid", "type": "quantitative", "scale": {"domain": [10.98, 64.18], "nice": false, "zero": false}, "axis": null}
              }
            },
            {
              "data": {"name": "measures"},
              "mark": {"type": "rect", "fill": "#FFFFFF", "stroke": "#E0E3EB", "strokeWidth": 1.5, "cornerRadius": 7},
              "encoding": {
                "x": {"field": "b0", "type": "temporal", "scale": {"domain": [{"year": 2019, "month": "may", "date": 19}, {"year": 2026, "month": "aug", "date": 29}], "nice": false}, "axis": null},
                "x2": {"field": "b1"},
                "y": {"field": "blo", "type": "quantitative", "scale": {"domain": [10.98, 64.18], "nice": false, "zero": false}, "axis": null},
                "y2": {"field": "bhi"}
              }
            },
            {
              "data": {"name": "measures"},
              "mark": {"type": "text", "fontSize": 19, "color": "#131722", "baseline": "middle"},
              "encoding": {
                "x": {"field": "tc", "type": "temporal", "scale": {"domain": [{"year": 2019, "month": "may", "date": 19}, {"year": 2026, "month": "aug", "date": 29}], "nice": false}, "axis": null},
                "y": {"field": "ty", "type": "quantitative", "scale": {"domain": [10.98, 64.18], "nice": false, "zero": false}, "axis": null},
                "text": {"field": "label"}
              }
            },
            {
              "data": {"values": [{"d": "2019-06-02", "v": 62.43, "label": "Cboe SP500 Dispersion Index · 1D · CBOE\u00a0 44.13\u00a0 +1.64 (+3.86%)"}]},
              "mark": {"type": "text", "align": "left", "baseline": "middle", "fontSize": 19, "color": "#131722"},
              "encoding": {
                "x": {"field": "d", "type": "temporal", "scale": {"domain": [{"year": 2019, "month": "may", "date": 19}, {"year": 2026, "month": "aug", "date": 29}], "nice": false}, "axis": null},
                "y": {"field": "v", "type": "quantitative", "scale": {"domain": [10.98, 64.18], "nice": false, "zero": false}, "axis": null},
                "text": {"field": "label"}
              }
            }
          ]
        },
        {
          "width": 82,
          "height": 789,
          "resolve": {"axis": {"y": "independent"}},
          "layer": [
            {
              "data": {"values": [{"v": 44.13, "label": "44.13", "kind": "last"}, {"v": 40.68, "label": "40.68", "kind": "alert"}]},
              "mark": {"type": "tick", "orient": "horizontal", "size": 76, "thickness": 27, "opacity": 1, "cornerRadius": 2},
              "encoding": {
                "y": {"field": "v", "type": "quantitative", "scale": {"domain": [10.98, 64.18], "nice": false, "zero": false},
                  "axis": {"orient": "right", "offset": -67, "values": [12, 16, 20, 24, 28, 32, 36, 40, 44, 48, 52, 56, 60], "format": ".2f", "labelPadding": 0, "ticks": false, "domain": false, "grid": false, "title": null, "labelBaseline": "middle", "labelOverlap": false,
                    "labelFontWeight": {"condition": {"test": "datum.value == 60 || datum.value == 20", "value": "bold"}, "value": "normal"}}},
                "color": {"condition": {"test": "datum.kind == 'alert'", "value": "#F23645"}, "value": "#000000"}
              }
            },
            {
              "data": {"values": [{"v": 44.13, "label": "44.13"}, {"v": 40.68, "label": "40.68"}]},
              "mark": {"type": "text", "fontSize": 19, "color": "#FFFFFF", "baseline": "middle"},
              "encoding": {
                "y": {"field": "v", "type": "quantitative", "scale": {"domain": [10.98, 64.18], "nice": false, "zero": false}, "axis": null},
                "text": {"field": "label"}
              }
            },
            {
              "data": {"values": [{"v": 62.45, "label": "point"}]},
              "mark": {"type": "tick", "orient": "horizontal", "size": 72, "thickness": 34, "opacity": 1, "color": "#FFFFFF", "stroke": "#E0E3EB", "strokeWidth": 1.5, "cornerRadius": 5},
              "encoding": {
                "y": {"field": "v", "type": "quantitative", "scale": {"domain": [10.98, 64.18], "nice": false, "zero": false}, "axis": null}
              }
            },
            {
              "data": {"values": [{"v": 62.45, "label": "point"}]},
              "mark": {"type": "text", "fontSize": 19, "color": "#131722", "baseline": "middle"},
              "encoding": {
                "y": {"field": "v", "type": "quantitative", "scale": {"domain": [10.98, 64.18], "nice": false, "zero": false}, "axis": null},
                "text": {"field": "label"}
              }
            }
          ]
        }
      ]
    },
    {
      "spacing": 0,
      "hconcat": [
        {
          "width": 2446,
          "height": 563,
          "resolve": {"axis": {"x": "independent", "y": "independent"}},
          "layer": [
            {
              "data": {"values": [{"lo": 30, "hi": 70}]},
              "mark": {"type": "rect", "color": "#7E57C2", "opacity": 0.1},
              "encoding": {
                "y": {"field": "lo", "type": "quantitative", "scale": {"domain": [17.04, 89.38], "nice": false, "zero": false},
                  "axis": {"values": [20, 30, 40, 50, 60, 70, 80], "grid": true, "labels": false, "ticks": false, "domain": false, "title": null}},
                "y2": {"field": "hi"}
              }
            },
            {
              "data": {"values": [{"v": 70}, {"v": 50}, {"v": 30}]},
              "mark": {"type": "rule", "color": "#787B86", "strokeWidth": 1.2, "strokeDash": [5, 5], "opacity": 0.8},
              "encoding": {"y": {"field": "v", "type": "quantitative", "scale": {"domain": [17.04, 89.38], "nice": false, "zero": false}, "axis": null}}
            },
            {
              "data": {"name": "events"},
              "mark": {"type": "rule", "strokeWidth": 2.5, "strokeDash": [16, 12]},
              "encoding": {
                "x": {"field": "d", "type": "temporal", "scale": {"domain": [{"year": 2019, "month": "may", "date": 19}, {"year": 2026, "month": "aug", "date": 29}], "nice": false},
                  "axis": {"values": [{"year":2019,"month":"jul","date":1},{"year":2020,"month":"jan","date":1},{"year":2020,"month":"jul","date":1},{"year":2021,"month":"jan","date":1},{"year":2021,"month":"jul","date":1},{"year":2022,"month":"jan","date":1},{"year":2022,"month":"jul","date":1},{"year":2023,"month":"jan","date":1},{"year":2023,"month":"jul","date":1},{"year":2024,"month":"jan","date":1},{"year":2024,"month":"jul","date":1},{"year":2025,"month":"jan","date":1},{"year":2025,"month":"jul","date":1},{"year":2026,"month":"jan","date":1},{"year":2026,"month":"jul","date":1}], "grid": true, "labels": false, "ticks": false, "domain": false, "title": null}},
                "color": {"condition": {"test": "datum.kind == 'recent'", "value": "#F23645"}, "value": "#7E57C2"}
              }
            },
            {
              "data": {"name": "dspx"},
              "mark": {"type": "line", "color": "#7E57C2", "strokeWidth": 1.6, "invalid": "filter"},
              "encoding": {
                "x": {"field": "d", "type": "temporal", "scale": {"domain": [{"year": 2019, "month": "may", "date": 19}, {"year": 2026, "month": "aug", "date": 29}], "nice": false}, "axis": null},
                "y": {"field": "r", "type": "quantitative", "scale": {"domain": [17.04, 89.38], "nice": false, "zero": false}, "axis": null}
              }
            },
            {
              "data": {"name": "dspx"},
              "mark": {"type": "line", "color": "#FDD835", "strokeWidth": 1.6, "invalid": "filter"},
              "encoding": {
                "x": {"field": "d", "type": "temporal", "scale": {"domain": [{"year": 2019, "month": "may", "date": 19}, {"year": 2026, "month": "aug", "date": 29}], "nice": false}, "axis": null},
                "y": {"field": "m", "type": "quantitative", "scale": {"domain": [17.04, 89.38], "nice": false, "zero": false}, "axis": null}
              }
            },
            {
              "data": {"values": [{"d": "2019-06-02", "v": 86.3, "label": "RSI (14, close)"}]},
              "mark": {"type": "text", "align": "left", "baseline": "middle", "fontSize": 19, "color": "#131722"},
              "encoding": {
                "x": {"field": "d", "type": "temporal", "scale": {"domain": [{"year": 2019, "month": "may", "date": 19}, {"year": 2026, "month": "aug", "date": 29}], "nice": false}, "axis": null},
                "y": {"field": "v", "type": "quantitative", "scale": {"domain": [17.04, 89.38], "nice": false, "zero": false}, "axis": null},
                "text": {"field": "label"}
              }
            },
            {
              "data": {"values": [{"d": "2019-11-02", "v": 86.3, "label": "61.51"}]},
              "mark": {"type": "text", "align": "left", "baseline": "middle", "fontSize": 19, "color": "#7E57C2"},
              "encoding": {
                "x": {"field": "d", "type": "temporal", "scale": {"domain": [{"year": 2019, "month": "may", "date": 19}, {"year": 2026, "month": "aug", "date": 29}], "nice": false}, "axis": null},
                "y": {"field": "v", "type": "quantitative", "scale": {"domain": [17.04, 89.38], "nice": false, "zero": false}, "axis": null},
                "text": {"field": "label"}
              }
            },
            {
              "data": {"values": [{"d": "2020-01-04", "v": 86.3, "label": "54.71"}]},
              "mark": {"type": "text", "align": "left", "baseline": "middle", "fontSize": 19, "color": "#F9D12C"},
              "encoding": {
                "x": {"field": "d", "type": "temporal", "scale": {"domain": [{"year": 2019, "month": "may", "date": 19}, {"year": 2026, "month": "aug", "date": 29}], "nice": false}, "axis": null},
                "y": {"field": "v", "type": "quantitative", "scale": {"domain": [17.04, 89.38], "nice": false, "zero": false}, "axis": null},
                "text": {"field": "label"}
              }
            }
          ]
        },
        {
          "width": 82,
          "height": 563,
          "resolve": {"axis": {"y": "independent"}},
          "layer": [
            {
              "data": {"values": [{"v": 61.51, "label": "61.51", "kind": "rsi"}, {"v": 54.71, "label": "54.71", "kind": "ma"}]},
              "mark": {"type": "tick", "orient": "horizontal", "size": 76, "thickness": 27, "opacity": 1, "cornerRadius": 2},
              "encoding": {
                "y": {"field": "v", "type": "quantitative", "scale": {"domain": [17.04, 89.38], "nice": false, "zero": false},
                  "axis": {"orient": "right", "offset": -67, "values": [20, 30, 40, 50, 60, 70, 80], "format": ".2f", "labelPadding": 0, "ticks": false, "domain": false, "grid": false, "title": null, "labelBaseline": "middle", "labelOverlap": false,
                    "labelFontWeight": {"condition": {"test": "datum.value == 50", "value": "bold"}, "value": "normal"}}},
                "color": {"condition": {"test": "datum.kind == 'ma'", "value": "#FDD835"}, "value": "#7E57C2"}
              }
            },
            {
              "data": {"values": [{"v": 61.51, "label": "61.51", "kind": "rsi"}, {"v": 54.71, "label": "54.71", "kind": "ma"}]},
              "mark": {"type": "text", "fontSize": 19, "baseline": "middle"},
              "encoding": {
                "y": {"field": "v", "type": "quantitative", "scale": {"domain": [17.04, 89.38], "nice": false, "zero": false}, "axis": null},
                "text": {"field": "label"},
                "color": {"condition": {"test": "datum.kind == 'ma'", "value": "#131722"}, "value": "#FFFFFF"}
              }
            }
          ]
        }
      ]
    },
    {
      "spacing": 0,
      "hconcat": [
        {
          "width": 2446,
          "height": 44,
          "resolve": {"axis": {"x": "independent"}},
          "layer": [
            {
              "data": {"name": "events"},
              "transform": [{"filter": {"field": "label", "oneOf": ["Tue 17 Mar '20", "Mon 24 Jan '22", "Thu 11 Jul '24", "Wed 29 Jan '25", "Tue 28 Oct '25"]}}],
              "mark": {"type": "tick", "orient": "horizontal", "size": 166, "thickness": 38, "opacity": 1, "cornerRadius": 3},
              "encoding": {
                "x": {"field": "d", "type": "temporal", "scale": {"domain": [{"year": 2019, "month": "may", "date": 19}, {"year": 2026, "month": "aug", "date": 29}], "nice": false},
                  "axis": {"orient": "bottom", "offset": -22, "values": [{"year":2019,"month":"jul","date":1},{"year":2020,"month":"jan","date":1},{"year":2020,"month":"jul","date":1},{"year":2021,"month":"jan","date":1},{"year":2021,"month":"jul","date":1},{"year":2022,"month":"jan","date":1},{"year":2022,"month":"jul","date":1},{"year":2023,"month":"jan","date":1},{"year":2023,"month":"jul","date":1},{"year":2024,"month":"jan","date":1},{"year":2024,"month":"jul","date":1},{"year":2025,"month":"jan","date":1},{"year":2025,"month":"jul","date":1},{"year":2026,"month":"jan","date":1},{"year":2026,"month":"jul","date":1}],
                    "labelExpr": "month(datum.value) == 0 ? timeFormat(datum.value, '%Y') : 'Jul'",
                    "labelFontWeight": {"condition": {"test": "month(datum.value) == 0", "value": "bold"}, "value": "normal"},
                    "labelPadding": 0, "ticks": false, "domain": false, "grid": false, "title": null, "labelBaseline": "middle", "labelOverlap": false, "labelFlush": false}},
                "color": {"condition": {"test": "datum.kind == 'recent'", "value": "#F23645"}, "value": "#7E57C2"}
              }
            },
            {
              "data": {"name": "events"},
              "transform": [{"filter": {"field": "label", "oneOf": ["Tue 17 Mar '20", "Mon 24 Jan '22", "Thu 11 Jul '24", "Wed 29 Jan '25", "Tue 28 Oct '25"]}}],
              "mark": {"type": "text", "fontSize": 19, "color": "#FFFFFF", "baseline": "middle"},
              "encoding": {
                "x": {"field": "d", "type": "temporal", "scale": {"domain": [{"year": 2019, "month": "may", "date": 19}, {"year": 2026, "month": "aug", "date": 29}], "nice": false}, "axis": null},
                "text": {"field": "label"}
              }
            },
            {
              "data": {"name": "events"},
              "transform": [{"filter": {"field": "label", "oneOf": ["Tue 14 Jul '20", "Wed 13 Jul '22", "Tue 24 Feb '26"]}}],
              "mark": {"type": "tick", "orient": "horizontal", "size": 166, "thickness": 38, "opacity": 1, "cornerRadius": 3},
              "encoding": {
                "x": {"field": "d", "type": "temporal", "scale": {"domain": [{"year": 2019, "month": "may", "date": 19}, {"year": 2026, "month": "aug", "date": 29}], "nice": false}, "axis": null},
                "color": {"condition": {"test": "datum.kind == 'recent'", "value": "#F23645"}, "value": "#7E57C2"}
              }
            },
            {
              "data": {"name": "events"},
              "transform": [{"filter": {"field": "label", "oneOf": ["Tue 14 Jul '20", "Wed 13 Jul '22", "Tue 24 Feb '26"]}}],
              "mark": {"type": "text", "fontSize": 19, "color": "#FFFFFF", "baseline": "middle"},
              "encoding": {
                "x": {"field": "d", "type": "temporal", "scale": {"domain": [{"year": 2019, "month": "may", "date": 19}, {"year": 2026, "month": "aug", "date": 29}], "nice": false}, "axis": null},
                "text": {"field": "label"}
              }
            },
            {
              "data": {"name": "events"},
              "transform": [{"filter": {"field": "label", "oneOf": ["Wed 02 Sep '20", "Mon 17 Oct '22"]}}],
              "mark": {"type": "tick", "orient": "horizontal", "size": 166, "thickness": 38, "opacity": 1, "cornerRadius": 3},
              "encoding": {
                "x": {"field": "d", "type": "temporal", "scale": {"domain": [{"year": 2019, "month": "may", "date": 19}, {"year": 2026, "month": "aug", "date": 29}], "nice": false}, "axis": null},
                "color": {"condition": {"test": "datum.kind == 'recent'", "value": "#F23645"}, "value": "#7E57C2"}
              }
            },
            {
              "data": {"name": "events"},
              "transform": [{"filter": {"field": "label", "oneOf": ["Wed 02 Sep '20", "Mon 17 Oct '22"]}}],
              "mark": {"type": "text", "fontSize": 19, "color": "#FFFFFF", "baseline": "middle"},
              "encoding": {
                "x": {"field": "d", "type": "temporal", "scale": {"domain": [{"year": 2019, "month": "may", "date": 19}, {"year": 2026, "month": "aug", "date": 29}], "nice": false}, "axis": null},
                "text": {"field": "label"}
              }
            }
          ]
        },
        {
          "width": 82,
          "height": 44,
          "data": {"values": [{"t": ""}]},
          "mark": {"type": "text"},
          "encoding": {"text": {"field": "t"}}
        }
      ]
    }
  ]
}
